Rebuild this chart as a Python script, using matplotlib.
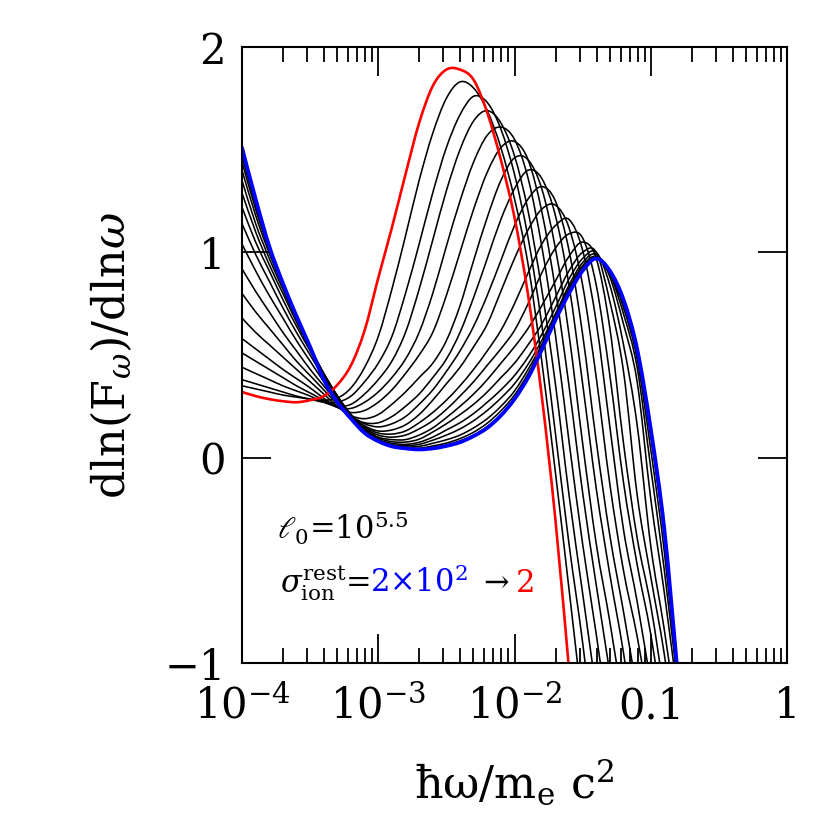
import numpy as np
import matplotlib
matplotlib.use("Agg")
import matplotlib.pyplot as plt
from matplotlib.ticker import FixedLocator, NullFormatter
from matplotlib.path import Path
from matplotlib.patches import PathPatch

plt.rcParams['font.family'] = ['DejaVu Serif']
plt.rcParams['mathtext.fontset'] = 'dejavuserif'

# log10(hbar omega / m_e c^2) sample grid
log_energy = [-4.0, -3.9, -3.8, -3.7, -3.6, -3.5, -3.4, -3.3, -3.2, -3.1, -3.0,
              -2.9, -2.8, -2.7, -2.6, -2.5, -2.4, -2.3, -2.2, -2.1, -2.0,
              -1.9, -1.8, -1.7, -1.6, -1.5, -1.4, -1.3, -1.2, -1.1, -1.0,
              -0.9, -0.8]

# sigma_ion^rest = 2 (red)
sigma_2 = [.32, .30, .285, .275, .27, .28, .30, .355, .45, .62, .875, 1.12, 1.38, 1.63,
           1.81, 1.89, 1.89, 1.84, 1.68, 1.45, 1.17, .79, .30, -.30, -1.03]
# intermediate sigma values (black), from small to large sigma
black_01 = [.35, .335, .32, .305, .295, .285, .28, .29, .34, .44, .59, .82, 1.08, 1.35,
            1.58, 1.75, 1.83, 1.80, 1.69, 1.51, 1.26, .94, .47, -.07, -.64, -1.22]
black_02 = [.38, .36, .34, .32, .30, .285, .27, .27, .30, .37, .46, .59, .80, 1.04, 1.29,
            1.51, 1.67, 1.76, 1.73, 1.60, 1.38, 1.07, .65, .12, -.42, -.90, -1.45]
black_03 = [.44, .41, .38, .35, .325, .30, .27, .25, .26, .31, .38, .47, .61, .82, 1.06,
            1.30, 1.50, 1.64, 1.69, 1.63, 1.47, 1.20, .82, .36, -.18, -.66, -1.14]
black_04 = [.51, .47, .43, .39, .35, .315, .28, .245, .24, .27, .32, .39, .48, .61, .80,
            1.03, 1.25, 1.44, 1.57, 1.61, 1.55, 1.36, 1.03, .60, .08, -.42, -.86, -1.33]
black_05 = [.58, .53, .48, .43, .385, .34, .29, .245, .22, .23, .27, .33, .41, .50, .61,
            .79, 1.00, 1.21, 1.39, 1.51, 1.54, 1.45, 1.20, .82, .35, -.17, -.62, -1.05]
black_06 = [.68, .61, .55, .49, .43, .37, .31, .25, .205, .19, .21, .26, .32, .39, .46,
            .57, .74, .96, 1.17, 1.35, 1.46, 1.45, 1.31, 1.02, .60, .07, -.42, -.80, -1.22]
black_07 = [.80, .71, .63, .55, .47, .40, .33, .26, .20, .17, .17, .20, .25, .31, .39,
            .48, .61, .78, .97, 1.16, 1.31, 1.40, 1.36, 1.18, .84, .36, -.15, -.57, -.95,
            -1.40]
black_08 = [.92, .81, .71, .61, .52, .43, .35, .27, .205, .165, .15, .165, .20, .26, .33,
            .42, .52, .64, .79, .96, 1.13, 1.26, 1.32, 1.25, 1.01, .60, .08, -.38, -.75,
            -1.14]
black_09 = [1.04, .91, .79, .68, .57, .47, .37, .28, .205, .155, .13, .135, .16, .21, .28,
            .36, .44, .54, .65, .81, .97, 1.11, 1.21, 1.23, 1.12, .84, .39, -.13, -.55,
            -.87, -1.25]
black_10 = [1.14, .99, .86, .73, .61, .50, .39, .29, .205, .15, .12, .115, .13, .17, .22,
            .28, .35, .43, .52, .62, .75, .90, 1.04, 1.13, 1.16, 1.01, .66, .15, -.35,
            -.70, -1.10]
black_11 = [1.22, 1.05, .91, .77, .64, .52, .40, .30, .21, .145, .11, .10, .11, .14, .18,
            .235, .30, .37, .45, .53, .62, .75, .90, 1.02, 1.09, 1.07, .84, .40, -.12,
            -.52, -.86, -1.30]
black_12 = [1.29, 1.10, .94, .80, .66, .53, .41, .30, .21, .14, .10, .088, .088, .11,
            .145, .195, .25, .31, .38, .46, .54, .63, .74, .86, .98, 1.05, .97, .63, .07,
            -.39, -.72, -1.15]
black_13 = [1.35, 1.14, .97, .82, .67, .535, .41, .30, .205, .135, .095, .078, .076, .09,
            .125, .165, .21, .26, .32, .39, .46, .55, .65, .78, .91, 1.00, 1.00, .76, .42,
            -.18, -.58, -.96, -1.45]
black_14 = [1.40, 1.18, .995, .835, .68, .54, .41, .30, .20, .13, .088, .07, .065, .075,
            .10, .135, .17, .215, .27, .33, .40, .49, .60, .73, .87, .97, 1.00, .84, .55,
            .16, -.43, -.84, -1.30]
black_15 = [1.44, 1.21, 1.01, .845, .685, .54, .40, .29, .195, .125, .083, .063, .058,
            .065, .085, .11, .14, .18, .23, .29, .36, .455, .57, .70, .84, .95, .99, .88,
            .65, .37, -.20, -.66, -1.17]
black_16 = [1.47, 1.23, 1.02, .848, .688, .54, .39, .28, .192, .122, .081, .059, .052,
            .055, .07, .087, .11, .145, .19, .25, .325, .43, .55, .69, .825, .935, .98,
            .895, .70, .44, -.05, -.55, -1.12]
black_17 = [1.49, 1.245, 1.025, .849, .689, .54, .385, .275, .191, .121, .08, .057, .048,
            .046, .057, .071, .093, .124, .168, .228, .305, .41, .54, .68, .815, .925,
            .975, .90, .73, .48, .04, -.46, -1.10]
black_18 = [1.50, 1.255, 1.028, .85, .69, .54, .382, .272, .19, .12, .08, .056, .046,
            .042, .05, .062, .082, .11, .152, .21, .29, .40, .535, .675, .81, .918, .972,
            .905, .75, .51, .10, -.39, -1.08]
# sigma_ion^rest = 2x10^2 (blue)
sigma_200 = [1.51, 1.26, 1.03, .85, .69, .54, .38, .27, .19, .12, .08, .055, .045, .04,
             .045, .057, .075, .105, .145, .205, .285, .39, .525, .67, .80, .91, .97, .91,
             .77, .53, .14, -.35, -1.07]

x_tick_values = [1e-4, 1e-3, 1e-2, 0.1, 1]
x_tick_labels = [r'$10^{-4}$', r'$10^{-3}$', r'$10^{-2}$', '0.1', '1']
y_tick_values = [-1, 0, 1, 2]
y_tick_labels = ['\u22121', '0', '1', '2']


def smooth_path(logx, y):
    """Smooth curve through the read points (Catmull-Rom drawn as cubic Beziers)."""
    p = np.column_stack([np.asarray(logx, float), np.asarray(y, float)])
    n = len(p)
    verts = [p[0]]
    codes = [Path.MOVETO]
    for i in range(n - 1):
        p0 = p[i - 1] if i > 0 else p[i]
        p3 = p[i + 2] if i + 2 < n else p[i + 1]
        c1 = p[i] + (p[i + 1] - p0) / 6.0
        c2 = p[i + 1] - (p3 - p[i]) / 6.0
        verts += [c1, c2, p[i + 1]]
        codes += [Path.CURVE4] * 3
    verts = np.array(verts)
    verts[:, 0] = 10.0 ** verts[:, 0]
    return Path(verts, codes)


def draw_curve(ax, values, color, lw, z):
    path = smooth_path(log_energy[:len(values)], values)
    patch = PathPatch(path, facecolor='none', edgecolor=color, lw=lw, zorder=z,
                      capstyle='round', joinstyle='round')
    ax.add_patch(patch)


fig = plt.figure(figsize=(8.3, 8.3), dpi=100)
ax = fig.add_axes([242 / 830, 1 - 663 / 830, 545 / 830, 616 / 830])
ax.set_xscale('log')

blacks = [black_01, black_02, black_03, black_04, black_05, black_06, black_07, black_08,
          black_09, black_10, black_11, black_12, black_13, black_14, black_15, black_16,
          black_17, black_18]
for c in blacks:
    draw_curve(ax, c, 'black', 1.15, 2)
draw_curve(ax, sigma_2, '#ff0000', 1.9, 3)
draw_curve(ax, sigma_200, '#0000ff', 2.7, 4)

ax.set_xlim(1e-4, 1)
ax.set_ylim(-1, 2)

ax.xaxis.set_major_locator(FixedLocator(x_tick_values))
ax.set_xticklabels(x_tick_labels)
minor = [m * d for d in [1e-4, 1e-3, 1e-2, 1e-1] for m in range(2, 10)]
ax.xaxis.set_minor_locator(FixedLocator(minor))
ax.xaxis.set_minor_formatter(NullFormatter())
ax.yaxis.set_major_locator(FixedLocator(y_tick_values))
ax.set_yticklabels(y_tick_labels)

ax.tick_params(which='both', direction='in', top=True, right=True, width=1.3,
               labelsize=30, color='black')
ax.tick_params(which='major', length=21)
ax.tick_params(which='minor', length=11)
ax.tick_params(axis='x', which='major', pad=16)
ax.tick_params(axis='y', which='major', pad=12)
for s in ax.spines.values():
    s.set_linewidth(1.5)
    s.set_zorder(5)

ax.set_xlabel('\u0127\u03c9/m$_{\\rm e}$ c$^2$', fontsize=32, labelpad=22)
ax.set_ylabel(r'dln(F$_\omega$)/dln$\omega$', fontsize=32, labelpad=22)

ax.text(0.064, 0.20, r'$\ell_0$=10$^{5.5}$', transform=ax.transAxes, fontsize=22,
        ha='left', va='baseline')

pieces = [(r'$\sigma^{\rm rest}_{\rm ion}$=', 'black'),
          (r'2$\times$10$^2$', '#0000ff'),
          (r' $\rightarrow$ ', 'black'),
          ('2', '#ff0000')]
fig.canvas.draw()
renderer = fig.canvas.get_renderer()
xpos = 0.07
for txt, col in pieces:
    t = ax.text(xpos, 0.115, txt, transform=ax.transAxes, fontsize=22, color=col,
                ha='left', va='baseline')
    bb = t.get_window_extent(renderer=renderer)
    bb_ax = bb.transformed(ax.transAxes.inverted())
    xpos = bb_ax.x1

fig.savefig('out.png', dpi=100)
